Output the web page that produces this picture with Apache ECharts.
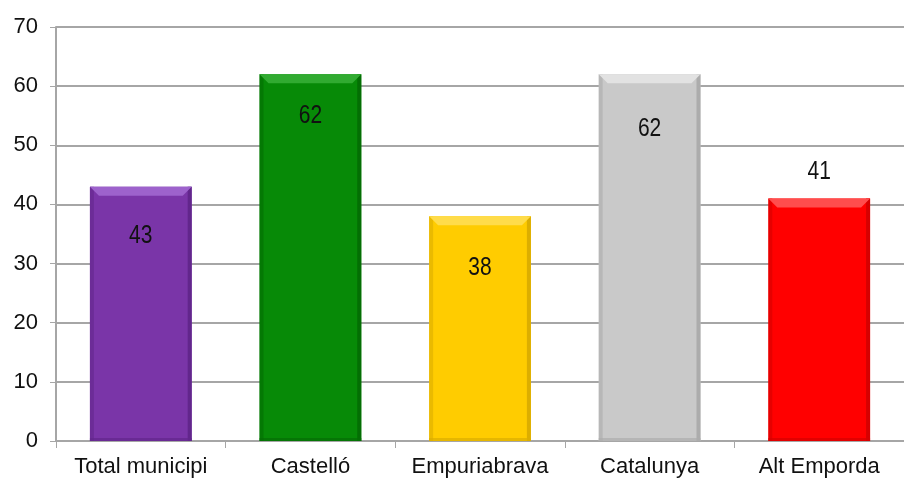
<!DOCTYPE html>
<html>
<head>
<meta charset="utf-8">
<script src="https://cdn.jsdelivr.net/npm/echarts@6/dist/echarts.min.js"></script>
<style>
  html, body { margin: 0; padding: 0; background: #fff; }
  #chart { width: 904px; height: 484px; }
</style>
</head>
<body>
<div id="chart"></div>
<script>
const categories = ["Total municipi", "Castelló", "Empuriabrava", "Catalunya", "Alt Emporda"];
const values = [43, 62, 38, 62, 41];
const yTicks = [0, 10, 20, 30, 40, 50, 60, 70];

// colours per bar: main, top bevel, side shade
const barColors = [
  ["#7a35a8", "#9d62cc", "#62268c"],
  ["#078a07", "#31ab31", "#046e04"],
  ["#ffcc00", "#ffdc4a", "#dcae00"],
  ["#c9c9c9", "#e2e2e2", "#acacac"],
  ["#ff0000", "#ff4d4d", "#d60000"]
];
// label centre offset from bar top (px, positive = down)
const labelShift = [49, 42, 52, 55, -26];

const font = "'Liberation Sans', Arial, sans-serif";

let myChart = echarts.init(document.getElementById("chart"));

function renderBar(params, api) {
  let i = api.value(0);
  let v = api.value(1);
  let top = api.coord([i, v]);
  let base = api.coord([i, 0]);
  let w = api.size([1, 0])[0] * 0.6;
  let x0 = top[0] - w / 2, x1 = top[0] + w / 2;
  let y0 = top[1], y1 = base[1];
  let c = barColors[i];
  let bev = 9, side = 4;
  return {
    type: "group",
    children: [
      { type: "rect", shape: { x: x0, y: y0, width: w, height: y1 - y0 }, style: { fill: c[0] } },
      { type: "rect", shape: { x: x0, y: y0, width: side, height: y1 - y0 }, style: { fill: c[2], opacity: 0.6 } },
      { type: "rect", shape: { x: x1 - side, y: y0, width: side, height: y1 - y0 }, style: { fill: c[2] } },
      { type: "rect", shape: { x: x0, y: y1 - 3, width: w, height: 3 }, style: { fill: c[2], opacity: 0.7 } },
      { type: "polygon", shape: { points: [[x0, y0], [x1, y0], [x1 - bev, y0 + bev], [x0 + bev, y0 + bev]] }, style: { fill: c[1] } },
      {
        type: "text",
        x: top[0],
        y: y0 + labelShift[i],
        scaleY: 1.2,
        style: {
          text: String(v),
          fill: "#111",
          font: "21px " + font,
          align: "center",
          verticalAlign: "middle"
        }
      }
    ]
  };
}

myChart.setOption({
  animation: false,
  grid: {
    left: 56,
    top: 27,
    width: 855,
    bottom: 43,
    containLabel: false
  },
  xAxis: {
    type: "category",
    data: categories,
    axisLine: { lineStyle: { color: "#a6a6a6", width: 2 } },
    axisTick: { show: true, interval: 0, length: 7, lineStyle: { color: "#a6a6a6", width: 1 } },
    axisLabel: { interval: 0, color: "#111", fontSize: 22, fontFamily: font, margin: 15 }
  },
  yAxis: {
    type: "value",
    min: yTicks[0],
    max: yTicks[yTicks.length - 1],
    interval: 10,
    axisLine: { show: true, lineStyle: { color: "#a6a6a6", width: 2 } },
    axisTick: { show: true, length: 6, lineStyle: { color: "#a6a6a6", width: 1 } },
    axisLabel: { color: "#111", fontSize: 22, fontFamily: font, margin: 18 },
    splitLine: { lineStyle: { color: "#a6a6a6", width: 2 } }
  },
  series: [
    {
      type: "custom",
      renderItem: renderBar,
      data: values.map((v, i) => [i, v]),
      encode: { x: 0, y: 1 }
    }
  ]
});
</script>
</body>
</html>
